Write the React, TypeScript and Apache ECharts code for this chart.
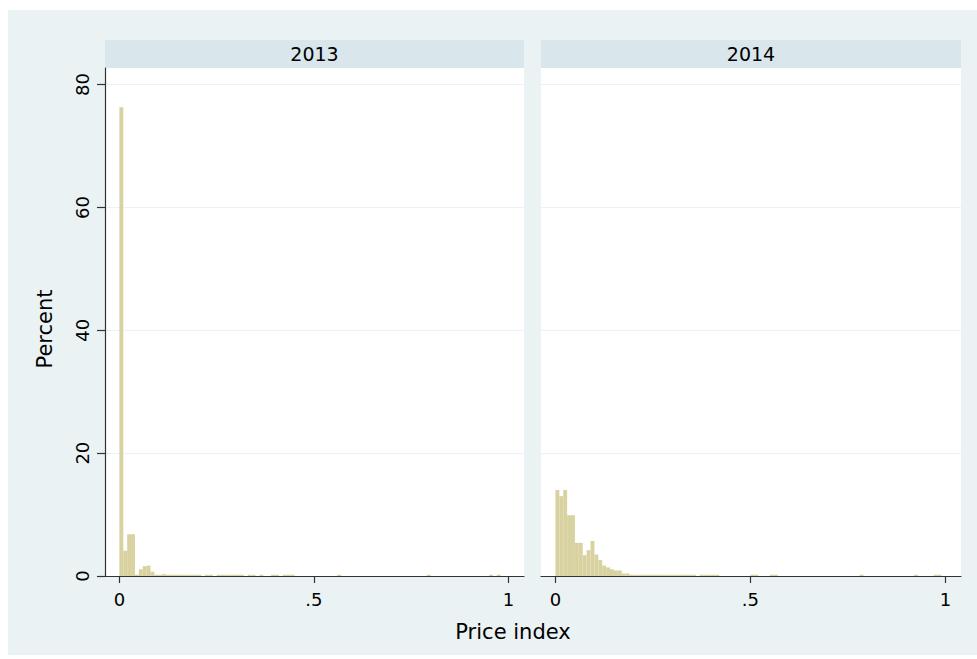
import React, { useEffect, useRef } from "react";
import * as echarts from "echarts";

const panels = ["2013", "2014"];
const binWidth = 0.01;

const bins2013 = [0, 1, 2, 3, 4, 5, 6, 7, 8, 9, 10, 11, 12, 13, 14, 15, 16, 17, 18, 19, 20, 22, 23, 25, 26, 27, 28, 29, 30, 31, 33, 34, 36, 39, 40, 42, 43, 44, 56, 79, 95, 97];
const pct2013 = [76.3, 4.1, 6.8, 6.8, 0.2, 1.1, 1.6, 1.7, 0.7, 0.2, 0.2, 0.3, 0.2, 0.2, 0.2, 0.2, 0.2, 0.2, 0.2, 0.2, 0.2, 0.2, 0.2, 0.2, 0.2, 0.2, 0.2, 0.2, 0.2, 0.2, 0.2, 0.2, 0.2, 0.2, 0.2, 0.2, 0.2, 0.2, 0.2, 0.2, 0.2, 0.2];

const bins2014 = [0, 1, 2, 3, 4, 5, 6, 7, 8, 9, 10, 11, 12, 13, 14, 15, 16, 17, 18, 19, 20, 21, 22, 23, 24, 25, 26, 27, 28, 29, 30, 31, 32, 33, 34, 35, 37, 38, 39, 40, 41, 50, 51, 55, 56, 78, 92, 97, 98];
const pct2014 = [14.0, 13.0, 14.0, 9.9, 9.9, 5.4, 5.4, 3.4, 4.2, 5.7, 3.5, 2.6, 1.7, 1.4, 1.1, 0.9, 0.9, 0.4, 0.4, 0.2, 0.2, 0.2, 0.2, 0.2, 0.2, 0.2, 0.2, 0.2, 0.2, 0.2, 0.2, 0.2, 0.2, 0.2, 0.2, 0.2, 0.2, 0.2, 0.2, 0.2, 0.2, 0.2, 0.2, 0.2, 0.2, 0.2, 0.2, 0.2, 0.2];

const yTicks = [0, 20, 40, 60, 80];
const xTicks = [0, 0.5, 1];
const xTickLabels = ["0", ".5", "1"];

const FONT = "DejaVu Sans";
const BAR = "#d8d2a1";
const BG = "#eaf2f3";
const HEADER = "#d9e6eb";
const AXIS = "#333333";

const GRIDS = [
  { left: 97, top: 58, width: 419, height: 508 },
  { left: 533, top: 58, width: 420, height: 508 },
];

function toRows(bins: number[], pct: number[]) {
  return bins.map((b, i) => [b * binWidth, (b + 1) * binWidth, pct[i]]);
}

export default function App() {
  const ref = useRef<HTMLDivElement>(null);
  useEffect(() => {
    if (!ref.current) return;
    const chart = echarts.init(ref.current, undefined, { renderer: "svg" });
    const data = [toRows(bins2013, pct2013), toRows(bins2014, pct2014)];
    const renderItem = (params: any, api: any) => {
      const x0 = api.value(0);
      const x1 = api.value(1);
      const v = api.value(2);
      const tl = api.coord([x0, v]);
      const br = api.coord([x1, 0]);
      return {
        type: "rect",
        shape: { x: tl[0], y: tl[1], width: br[0] - tl[0], height: br[1] - tl[1] },
        style: { fill: BAR },
      };
    };
    const option: any = {
      animation: false,
      backgroundColor: BG,
      grid: GRIDS.map((g) => ({ ...g, show: true, backgroundColor: "#ffffff", borderWidth: 0 })),
      xAxis: GRIDS.map((g, i) => ({
        type: "value",
        gridIndex: i,
        min: -0.037,
        max: 1.04,
        axisLine: { show: true, onZero: false, lineStyle: { color: AXIS, width: 1.2 } },
        axisTick: { show: true, length: 7, customValues: xTicks, lineStyle: { color: AXIS, width: 1.2 } },
        axisLabel: {
          customValues: xTicks,
          formatter: (v: number) => xTickLabels[xTicks.indexOf(v)] ?? "",
          fontFamily: FONT,
          fontSize: 18,
          color: "#000",
          margin: 14,
        },
        splitLine: { show: false },
      })),
      yAxis: GRIDS.map((g, i) => ({
        type: "value",
        gridIndex: i,
        min: 0,
        max: 82.7,
        axisLine: { show: i === 0, onZero: false, lineStyle: { color: AXIS, width: 1.2 } },
        axisTick: { show: i === 0, length: 8, customValues: yTicks, lineStyle: { color: AXIS, width: 1.2 } },
        axisLabel: {
          show: i === 0,
          customValues: yTicks,
          rotate: 90,
          fontFamily: FONT,
          fontSize: 18,
          color: "#000",
          margin: 14,
        },
        splitLine: { show: true, lineStyle: { color: BG, width: 1.2 } },
      })),
      series: data.map((d, i) => ({
        type: "custom",
        xAxisIndex: i,
        yAxisIndex: i,
        renderItem,
        encode: { x: [0, 1], y: 2 },
        data: d,
        clip: true,
      })),
      graphic: [
        ...GRIDS.map((g, i) => ({
          type: "group",
          left: g.left,
          top: 30,
          children: [
            { type: "rect", shape: { x: 0, y: 0, width: g.width, height: 28 }, style: { fill: HEADER } },
            {
              type: "text",
              x: g.width / 2,
              y: 14,
              style: {
                text: panels[i],
                fontFamily: FONT,
                fontSize: 19,
                fill: "#000",
                align: "center",
                verticalAlign: "middle",
              },
            },
          ],
        })),
        {
          type: "text",
          x: 37,
          y: 319,
          rotation: Math.PI / 2,
          style: {
            text: "Percent",
            fontFamily: FONT,
            fontSize: 21,
            fill: "#000",
            align: "center",
            verticalAlign: "middle",
          },
        },
        {
          type: "text",
          x: 505,
          y: 622,
          style: {
            text: "Price index",
            fontFamily: FONT,
            fontSize: 21,
            fill: "#000",
            align: "center",
            verticalAlign: "middle",
          },
        },
      ],
    };
    chart.setOption(option);
    return () => chart.dispose();
  }, []);
  return (
    <div
      ref={ref}
      style={{ position: "absolute", left: 8, top: 10, width: 969, height: 645 }}
    />
  );
}
